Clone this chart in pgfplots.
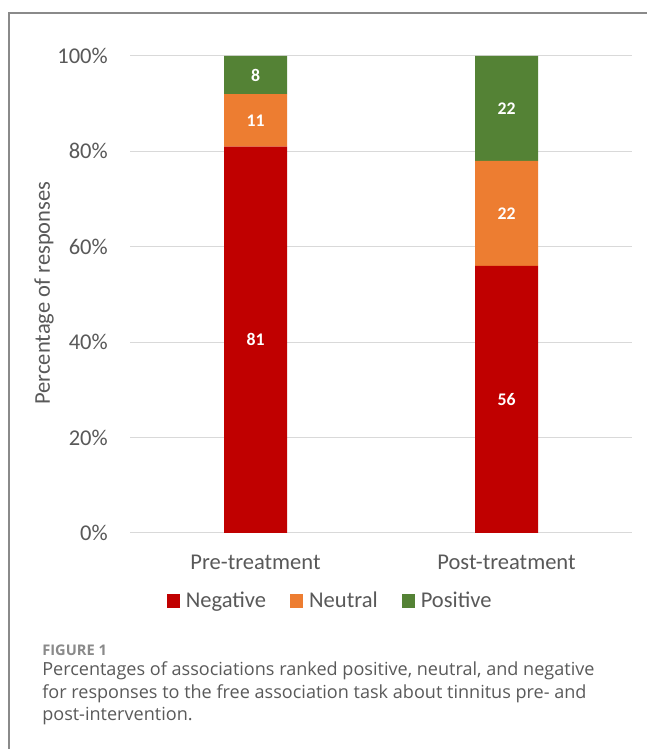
\documentclass[border=0pt]{standalone}
\usepackage{fontspec}
\setmainfont{Carlito}
\newfontfamily\capfont{Open Sans}
\usepackage{pgfplots}
\pgfplotsset{compat=1.18}
\definecolor{negc}{HTML}{C00000}
\definecolor{neuc}{HTML}{ED7D31}
\definecolor{posc}{HTML}{548235}
\definecolor{txt}{HTML}{595959}
\definecolor{gridc}{HTML}{D9D9D9}
\definecolor{framec}{HTML}{8A8A8A}
\definecolor{capc}{HTML}{5A5A5A}
\pgfplotsset{
  frame geom/.style={at={(97.5pt,162pt)}, anchor=south west, scale only axis,
    width=376.5pt, height=357.75pt, xmin=-0.5, xmax=1.5, ymin=0, ymax=100},
}
\begin{document}
\begin{tikzpicture}[x=0.75pt,y=0.75pt]
\fill[white] (0,0) rectangle (646,749);
\useasboundingbox (0,0) rectangle (646,749);
\draw[framec, line width=1.1pt] (9,-10) -- (9,736) -- (660,736);
\begin{axis}[
  frame geom,
  ybar stacked, bar width=47.25pt,
  xtick={0,1}, xticklabels={Pre-treatment,Post-treatment},
  ytick={0,20,40,60,80,100},
  yticklabel={\pgfmathprintnumber{\tick}\%},
  /pgf/number format/assume math mode=true,
  axis x line*=bottom, axis y line*=left,
  y axis line style={draw=none},
  x axis line style={draw=gridc, line width=0.75pt},
  major tick length=0pt,
  ymajorgrids, grid style={gridc, line width=0.75pt},
  ticklabel style={font=\fontsize{16.9}{20}\selectfont, text=txt},
  yticklabel style={anchor=east, inner sep=0pt, xshift=-16.5pt},
  xticklabel style={anchor=north, inner sep=0pt, yshift=-16.5pt},
  ylabel={Percentage of responses},
  ylabel style={at={(axis description cs:-0.1713,0.503)}, anchor=center, font=\fontsize{16.9}{20}\selectfont, text=txt},
  legend style={draw=none, fill=none, at={(axis description cs:0.3994,-0.1426)}, anchor=center,
    legend columns=-1, font=\fontsize{16.9}{20}\selectfont, text=txt,
    /tikz/every odd column/.append style={column sep=2.5pt},
    /tikz/every even column/.append style={column sep=16pt}},
  legend cell align=left,
]
\addplot[fill=negc, draw=none, legend image code/.code={\fill[negc] (0pt,-4.9pt) rectangle (9.8pt,4.9pt);}] coordinates {(0,81) (1,56)};
\addplot[fill=neuc, draw=none, legend image code/.code={\fill[neuc] (0pt,-4.9pt) rectangle (9.8pt,4.9pt);}] coordinates {(0,11) (1,22)};
\addplot[fill=posc, draw=none, legend image code/.code={\fill[posc] (0pt,-4.9pt) rectangle (9.8pt,4.9pt);}] coordinates {(0,8) (1,22)};
\legend{Negative,Neutral,Positive}
\end{axis}
\begin{axis}[frame geom, hide axis]
\addplot[only marks, mark=none, point meta=explicit symbolic, nodes near coords,
  every node near coord/.append style={font=\bfseries\fontsize{13.3}{15}\selectfont, text=white, anchor=center}]
  coordinates {(0,40.5)[81] (0,86.5)[11] (0,96)[8] (1,28)[56] (1,67)[22] (1,89)[22]};
\end{axis}
\node[anchor=base west, inner sep=0pt, font=\capfont\bfseries\fontsize{11}{13}\selectfont, text=framec] at (42,93) {FIGURE 1};
\node[anchor=base west, inner sep=0pt, font=\capfont\fontsize{13.55}{16}\selectfont, text=capc] at (42,73) {Percentages of associations ranked positive, neutral, and negative};
\node[anchor=base west, inner sep=0pt, font=\capfont\fontsize{13.55}{16}\selectfont, text=capc] at (42,50.5) {for responses to the free association task about tinnitus pre- and};
\node[anchor=base west, inner sep=0pt, font=\capfont\fontsize{13.55}{16}\selectfont, text=capc] at (42,28.5) {post-intervention.};
\end{tikzpicture}
\end{document}
